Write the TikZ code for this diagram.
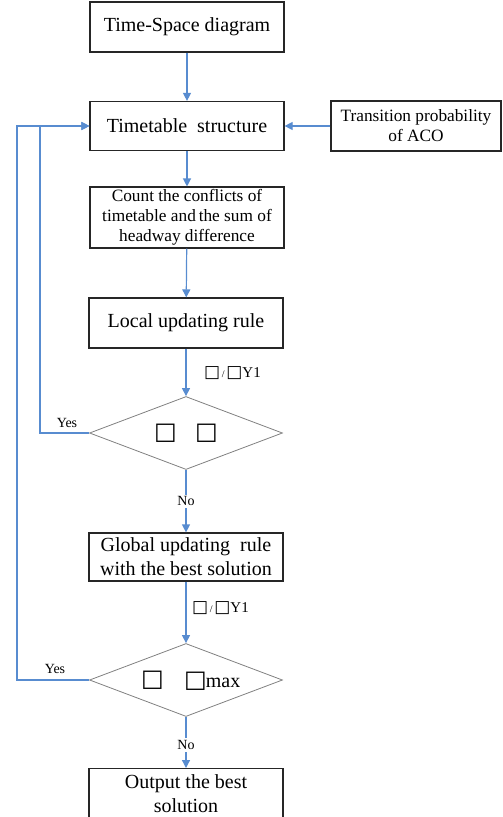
\documentclass[tikz,border=0pt]{standalone}
\usepackage{fontspec}
\setmainfont{Liberation Serif}
\newfontfamily\symf{DejaVu Sans}
\usetikzlibrary{arrows.meta,shapes.geometric}
\definecolor{flowblue}{RGB}{88,140,208}
\definecolor{diagray}{RGB}{128,128,128}
\begin{document}
\begin{tikzpicture}[x=1pt,y=-1pt,
  box/.style={draw=black!85,line width=1.2pt,minimum width=194pt,inner sep=0pt,align=center,font=\fontsize{20}{23}\selectfont},
  smallbox/.style={draw=black!85,line width=1.1pt,inner sep=0pt,align=center,font=\fontsize{17.3}{20}\selectfont},
  dia/.style={draw=diagray,line width=0.8pt,diamond,aspect=2.64,minimum width=193pt,minimum height=73pt,inner sep=0pt},
  conn/.style={draw=flowblue,line width=1.2pt,-{Triangle[length=8pt,width=8pt]}},
  lbl/.style={font=\fontsize{14}{16}\selectfont,inner sep=0pt},
  sq/.style={font=\symf\fontsize{24}{24}\selectfont,inner sep=0pt}]
\useasboundingbox (0,0) rectangle (503,817);
\clip (0,0) rectangle (503,817);

\node[box,minimum height=50pt] (ts) at (187,27) {Time-Space diagram};
\node[box,minimum height=49pt] (tt) at (187,126) {Timetable\ \ structure};
\node[smallbox,minimum width=170pt,minimum height=50pt] (tp) at (416,126) {Transition probability\\of ACO};
\node[smallbox,minimum width=194pt,minimum height=61pt] (cc) at (187,217.5) {Count the conflicts of\\timetable and\,the sum of\\headway difference};
\node[box,minimum height=50pt] (lu) at (186,323) {Local updating rule};
\node[dia] (d1) at (186,433) {};
\node[box,minimum height=48pt,font=\fontsize{20}{24}\selectfont] (gu) at (186,557) {Global updating\ \ rule\\with the best solution};
\node[dia] (d2) at (186,680) {};
\node[box,minimum height=56pt,font=\fontsize{20}{24}\selectfont,anchor=north] (ob) at (186,768) {\rule{0pt}{15pt}Output the best\\solution\rule[-7pt]{0pt}{7pt}};

% diamond contents
\node[sq] (s1a) at (165.5,433) {□};
\node[sq] (s1b) at (206.5,433) {□};
\node[sq] (s2a) at (152.5,680) {□};
\node[inner sep=0pt,anchor=west,font=\fontsize{20}{20}\selectfont] (s2b) at (184,681) {{\symf\fontsize{24}{24}\selectfont □}\hspace{-1pt}max};

% connectors
\draw[conn] (ts) -- (tt);
\draw[conn] (tp) -- (tt);
\draw[conn] (tt) -- (cc);
\draw[conn] (cc) -- (lu);
\draw[conn] (lu) -- (d1);
\draw[conn] (d1) -- node[lbl,fill=white,inner sep=2pt] (no1) {No} (gu);
\draw[conn] (gu) -- (d2);
\draw[conn] (d2) -- node[lbl,fill=white,inner sep=2pt,pos=0.55] (no2) {No} (ob);
\coordinate (c1) at (40,433);
\coordinate (c2) at (17,680);
\draw[conn] (d1.west) -- (c1) |- (tt.west);
\draw[conn] (d2.west) -- (c2) |- (tt.west);

% labels
\node[lbl] (y1) at (67,423) {Yes};
\node[lbl] (y2) at (55,669) {Yes};
\node[inner sep=0pt,anchor=west] (e1) at (204,373) {{\symf\fontsize{17}{17}\selectfont □}{\fontsize{10}{10}\selectfont\,/\,}{\symf\fontsize{17}{17}\selectfont □}{\fontsize{15}{15}\selectfont Y1}};
\node[inner sep=0pt,anchor=west] (e2) at (192,608) {{\symf\fontsize{17}{17}\selectfont □}{\fontsize{10}{10}\selectfont\,/\,}{\symf\fontsize{17}{17}\selectfont □}{\fontsize{15}{15}\selectfont Y1}};
\end{tikzpicture}
\end{document}
